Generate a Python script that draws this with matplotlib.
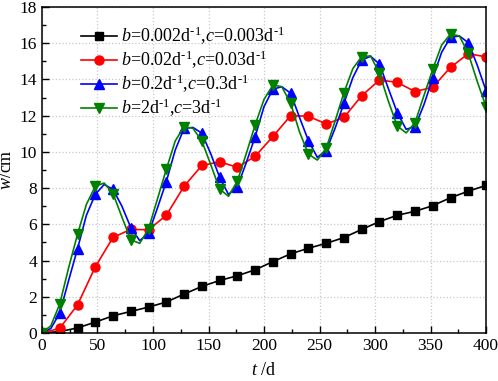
import numpy as np
import matplotlib
matplotlib.use("Agg")
import matplotlib.pyplot as plt
from matplotlib.ticker import MultipleLocator

plt.rcParams['font.family'] = 'Liberation Serif'
plt.rcParams['mathtext.fontset'] = 'custom'
plt.rcParams['mathtext.rm'] = 'Liberation Serif'
plt.rcParams['mathtext.it'] = 'Liberation Serif:italic'

# marker times (every 16 d) and dense times (every 8 d)
t16 = np.arange(0, 401, 16)
t8 = np.arange(0, 401, 8)

w_black = [0.0, 0.08, 0.28, 0.60, 0.95, 1.19, 1.43, 1.71, 2.15, 2.57, 2.90, 3.16, 3.49,
           3.94, 4.37, 4.68, 4.95, 5.27, 5.72, 6.15, 6.50, 6.72, 7.03, 7.47, 7.83, 8.15]
w_red = [0.0, 0.26, 1.55, 3.65, 5.28, 5.72, 5.70, 6.50, 8.10, 9.25, 9.45, 9.15, 9.75,
         10.85, 12.0, 11.97, 11.54, 11.90, 13.10, 13.97, 13.84, 13.33, 13.57, 14.67, 15.42, 15.25]
w_blue = [0.0, 0.25, 1.10, 2.90, 4.65, 6.50, 7.65, 8.20, 7.93, 7.00, 5.82, 5.10, 5.50,
          6.90, 8.36, 10.10, 11.30, 11.35, 11.03, 9.90, 8.60, 7.65, 8.08, 9.40, 10.84,
          12.50, 13.46, 13.60, 13.24, 11.90, 10.62, 9.70, 10.07, 11.30, 12.68, 14.10, 15.07,
          15.28, 14.85, 13.50, 12.17, 11.25, 11.39, 12.60, 14.06, 15.50, 16.33, 16.40, 16.03,
          14.80, 13.38]
w_green = [0.0, 0.40, 1.60, 3.60, 5.45, 7.10, 8.10, 8.28, 7.70, 6.40, 5.15, 4.95, 5.75,
           7.40, 9.04, 10.60, 11.40, 11.30, 10.60, 9.30, 7.95, 7.55, 8.39, 9.90, 11.49,
           12.90, 13.69, 13.60, 12.68, 11.10, 9.88, 9.55, 10.20, 11.70, 13.27, 14.60, 15.26,
           15.30, 14.34, 12.80, 11.43, 11.05, 11.61, 13.10, 14.56, 15.90, 16.51, 16.40, 15.44,
           13.90, 12.50]

labels = [r'$b$=0.002d$^{\text{-}1}$,$c$=0.003d$^{\text{-}1}$',
          r'$b$=0.02d$^{\text{-}1}$,$c$=0.03d$^{\text{-}1}$',
          r'$b$=0.2d$^{\text{-}1}$,$c$=0.3d$^{\text{-}1}$',
          r'$b$=2d$^{\text{-}1}$,$c$=3d$^{\text{-}1}$']

fig = plt.figure(figsize=(4.98, 3.81), dpi=100)
ax = fig.add_axes([0.0843, 0.126, 0.8917, 0.8556])

ax.plot(t16, w_black, color='black', marker='s', ms=5.8, lw=1.2, label=labels[0])
ax.plot(t16, w_red, color='#FF0000', marker='o', ms=6.5, lw=1.2, label=labels[1])
ax.plot(t8, w_blue, color='#0000FF', marker='^', ms=7, lw=1.2, markevery=2, label=labels[2])
ax.plot(t8, w_green, color='#008000', marker='v', ms=7, lw=1.2, markevery=2, label=labels[3])

ax.set_xlim(0, 400)
ax.set_ylim(0, 18)
ax.xaxis.set_major_locator(MultipleLocator(50))
ax.xaxis.set_minor_locator(MultipleLocator(25))
ax.yaxis.set_major_locator(MultipleLocator(2))
ax.yaxis.set_minor_locator(MultipleLocator(1))
ax.tick_params(which='both', direction='in', labelsize=12.5, top=False, right=False)
ax.tick_params(which='major', length=5, width=1)
ax.tick_params(which='minor', length=3, width=1)
ax.grid(True, which='major', color='#c8c8c8', linestyle=':', linewidth=0.9)
for s in ax.spines.values():
    s.set_linewidth(1.1)

ax.set_xlabel(r'$t$ /d', fontsize=13, labelpad=6)
ax.set_ylabel(r'$w$/cm', fontsize=13, labelpad=3)

ax.legend(loc='upper left', frameon=False, fontsize=13, handlelength=2.0,
          handletextpad=0.2, labelspacing=0.1, borderaxespad=0.3,
          bbox_to_anchor=(0.06, 0.985))

fig.savefig('out.png', dpi=100)
